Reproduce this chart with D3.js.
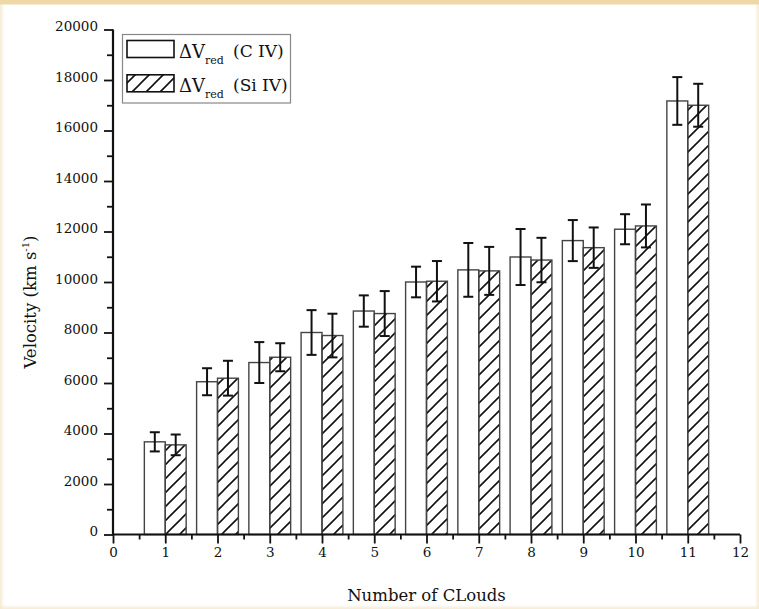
<!DOCTYPE html>
<html>
<head>
<meta charset="utf-8">
<script src="https://cdn.jsdelivr.net/npm/d3@7"></script>
<style>
  html, body { margin: 0; padding: 0; background: #fff; }
  svg { display: block; }
  text { font-family: "DejaVu Serif", serif; fill: #111; }
</style>
</head>
<body>
<svg id="chart" width="759" height="609"></svg>
<script>
// ---- data ----
const clouds = [1, 2, 3, 4, 5, 6, 7, 8, 9, 10, 11];
const civValues = [3670, 6050, 6810, 8000, 8850, 10000, 10480, 10990, 11640, 12090, 17170];
const civErrors = [380, 535, 810, 886, 620, 607, 1065, 1110, 813, 595, 945];
const siivValues = [3550, 6190, 7020, 7880, 8750, 10030, 10440, 10870, 11360, 12220, 17000];
const siivErrors = [410, 690, 555, 864, 890, 800, 950, 880, 800, 850, 850];
const xTicks = [0, 1, 2, 3, 4, 5, 6, 7, 8, 9, 10, 11, 12];
const yTicks = [0, 2000, 4000, 6000, 8000, 10000, 12000, 14000, 16000, 18000, 20000];
const seriesNames = ["(C IV)", "(Si IV)"];

const svg = d3.select("#chart");
const W = 759, H = 609;

// background frame (scanned-look tan edges)
const defs = svg.append("defs");
const blur = defs.append("filter").attr("id", "soft").attr("x", "-5%").attr("y", "-5%").attr("width", "110%").attr("height", "110%");
blur.append("feGaussianBlur").attr("stdDeviation", 1.5);
svg.append("rect").attr("x", 0).attr("y", 0).attr("width", W).attr("height", H).attr("fill", "#fff");
svg.append("rect").attr("x", 0).attr("y", 0).attr("width", W).attr("height", H)
  .attr("fill", "none").attr("stroke", "#f6e9cf").attr("stroke-width", 4).attr("filter", "url(#soft)");
svg.append("rect").attr("x", 0).attr("y", 0).attr("width", W).attr("height", 4.5).attr("fill", "#eed8a8");

// hatch pattern
const pat = defs.append("pattern").attr("id", "hatch")
  .attr("patternUnits", "userSpaceOnUse").attr("width", 14).attr("height", 14);
pat.append("path")
  .attr("d", "M0,14 L14,0 M-3.5,3.5 L3.5,-3.5 M10.5,17.5 L17.5,10.5")
  .attr("stroke", "#111").attr("stroke-width", 1.6).attr("fill", "none");

// scales
const x = d3.scaleLinear().domain([0, 12]).range([113, 740]);
const y = d3.scaleLinear().domain([0, 20000]).range([534.5, 29.5]);
const barW = 0.4;

// bars
const g = svg.append("g");
const civData = clouds.map((c, i) => ({c, v: civValues[i], e: civErrors[i]}));
const siivData = clouds.map((c, i) => ({c, v: siivValues[i], e: siivErrors[i]}));

g.selectAll("rect.civ").data(civData).join("rect").attr("class", "civ")
  .attr("x", d => x(d.c - barW)).attr("width", d => x(d.c) - x(d.c - barW))
  .attr("y", d => y(d.v)).attr("height", d => y(0) - y(d.v))
  .attr("fill", "#fff").attr("stroke", "#444").attr("stroke-width", 1.4);

g.selectAll("rect.siiv").data(siivData).join("rect").attr("class", "siiv")
  .attr("x", d => x(d.c)).attr("width", d => x(d.c + barW) - x(d.c))
  .attr("y", d => y(d.v)).attr("height", d => y(0) - y(d.v))
  .attr("fill", "url(#hatch)").attr("stroke", "#444").attr("stroke-width", 1.4);

// error bars
function drawErr(data, offset, cls) {
  const eg = g.selectAll("g." + cls).data(data).join("g").attr("class", cls);
  const cx = d => x(d.c + offset);
  eg.append("line").attr("x1", cx).attr("x2", cx)
    .attr("y1", d => y(d.v + d.e)).attr("y2", d => y(d.v - d.e))
    .attr("stroke", "#111").attr("stroke-width", 2);
  eg.append("line").attr("x1", d => cx(d) - 5).attr("x2", d => cx(d) + 5)
    .attr("y1", d => y(d.v + d.e)).attr("y2", d => y(d.v + d.e))
    .attr("stroke", "#111").attr("stroke-width", 2);
  eg.append("line").attr("x1", d => cx(d) - 5).attr("x2", d => cx(d) + 5)
    .attr("y1", d => y(d.v - d.e)).attr("y2", d => y(d.v - d.e))
    .attr("stroke", "#111").attr("stroke-width", 2);
}
drawErr(civData, -barW / 2, "errc");
drawErr(siivData, barW / 2, "errs");

// axes
const xAxisMinor = d3.axisBottom(x).tickValues(d3.range(0.5, 12, 1)).tickSize(5).tickFormat("");
const xAxis = d3.axisBottom(x).tickValues(xTicks).tickSize(9).tickPadding(4).tickFormat(d3.format("d"));
const yAxisMinor = d3.axisLeft(y).tickValues(d3.range(1000, 20000, 2000)).tickSize(6).tickFormat("");
const yAxis = d3.axisLeft(y).tickValues(yTicks).tickSize(9).tickPadding(6).tickFormat(d3.format("d"));

function styleAxis(sel) {
  sel.select(".domain").attr("stroke", "#111").attr("stroke-width", 2.2);
  sel.selectAll(".tick line").attr("stroke", "#111").attr("stroke-width", 1.8);
  sel.selectAll(".tick text").attr("font-family", "DejaVu Serif").attr("font-size", 13.5).attr("fill", "#111");
}
svg.append("g").attr("transform", `translate(0,${y(0)})`).call(xAxisMinor).call(styleAxis).select(".domain").remove();
svg.append("g").attr("transform", `translate(0,${y(0)})`).call(xAxis).call(styleAxis)
  .select(".domain").attr("d", `M${x(0)},0H${x(12)}`);
svg.append("g").attr("transform", `translate(${x(0)},0)`).call(yAxisMinor).call(styleAxis).select(".domain").remove();
svg.append("g").attr("transform", `translate(${x(0)},0)`).call(yAxis).call(styleAxis)
  .call(s => s.select(".domain").attr("d", `M0,${y(20000)}V${y(0)}`))
  .selectAll(".tick text").attr("dy", "0.1em");

// axis titles
svg.append("text").attr("x", (x(0) + x(12)) / 2).attr("y", 601)
  .attr("text-anchor", "middle").attr("font-size", 16.5).text("Number of CLouds");

const yt = svg.append("text").attr("transform", "translate(36,302) rotate(-90)")
  .attr("text-anchor", "middle").attr("font-size", 16.5);
yt.append("tspan").text("Velocity (km s");
yt.append("tspan").attr("font-size", 10).attr("dy", -7).text("-1");
yt.append("tspan").attr("dy", 7).text(")");

// legend
const lg = svg.append("g");
lg.append("rect").attr("x", 122.5).attr("y", 34.5).attr("width", 168).attr("height", 68.5)
  .attr("fill", "#fff").attr("stroke", "#888").attr("stroke-width", 1.2);
const legendRows = [{fill: "#fff", name: seriesNames[0]}, {fill: "url(#hatch)", name: seriesNames[1]}];
legendRows.forEach((r, i) => {
  const yy = 40.5 + i * 34.3;
  lg.append("rect").attr("x", 127).attr("y", yy).attr("width", 47).attr("height", 17)
    .attr("fill", r.fill).attr("stroke", "#111").attr("stroke-width", 1.6);
  const t = lg.append("text").attr("x", 179).attr("y", yy + 17).attr("font-size", 18);
  t.append("tspan").text("ΔV");
  t.append("tspan").attr("font-size", 11).attr("dy", 6).text("red");
  lg.append("text").attr("x", 233).attr("y", yy + 16.5).attr("font-size", 17).text(r.name);
});
</script>
</body>
</html>
